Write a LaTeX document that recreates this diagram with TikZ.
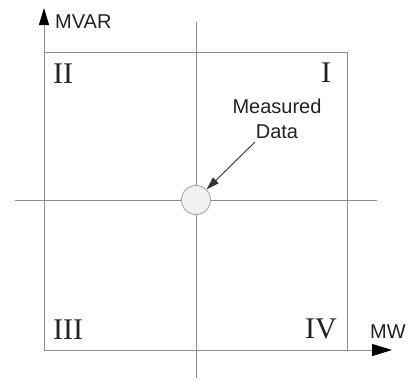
\documentclass[tikz,border=0pt]{standalone}
\usepackage{fontspec}
\setmainfont{Liberation Serif}
\setsansfont{Liberation Sans}
\usetikzlibrary{arrows.meta}
\definecolor{linegray}{HTML}{8C8C8C}
\definecolor{circfill}{HTML}{F0F1F1}
\definecolor{circline}{HTML}{A8A8A8}
\definecolor{txt}{HTML}{222222}
\tikzset{
  gridline/.style={draw=linegray, line width=0.9pt},
  axisline/.style={draw=linegray, line width=1pt},
  quadlabel/.style={font=\fontsize{30}{30}\selectfont, text=txt, inner sep=0pt, anchor=base west},
  axislabel/.style={font=\sffamily\fontsize{20}{20}\selectfont, text=txt, inner sep=0pt},
}
\begin{document}
\begin{tikzpicture}[x=1pt,y=-1pt]
\useasboundingbox (0,0) rectangle (408,381);
% corner coordinates
\coordinate (O) at (44,350);
\coordinate (Ytip) at (44,8);
\coordinate (Xtip) at (392,350);
\coordinate (TL) at (44,52);
\coordinate (TR) at (347,52);
\coordinate (BR) at (347,350);
\coordinate (Hl) at (15,200);
\coordinate (Hr) at (377,200);
\coordinate (Vt) at (196,22);
\coordinate (Vb) at (196,378);
% square and cross lines
\draw[gridline] (TL) -- (TR) -- (BR);
\draw[gridline] (Hl) -- (Hr);
\draw[gridline] (Vt) -- (Vb);
% axes
\draw[axisline, -{Triangle[length=17pt,width=10pt,color=black]}] (O) -- (Ytip);
\draw[axisline, -{Triangle[length=20pt,width=12pt,color=black]}] (O) -- (Xtip);
% measured data circle
\node[circle, draw=circline, fill=circfill, line width=0.9pt, minimum size=29pt, inner sep=0pt] (md) at (196,200) {};
% labels
\node[axislabel, anchor=base west] (mvar) at (55,28) {MVAR};
\node[axislabel, anchor=base west] (mw) at (370,338) {MW};
\node[quadlabel] (q2) at (53,83) {II};
\node[quadlabel] (q1) at (321,82) {I};
\node[quadlabel] (q3) at (53,339) {III};
\node[quadlabel] (q4) at (305,338) {IV};
\node[axislabel, align=center, anchor=base] (mtext) at (277,138) {Measured\\[5pt]Data};
\coordinate (astart) at (255,142);
\draw[draw=black!80, line width=0.9pt, -{Triangle[length=13pt,width=8pt]}] (astart) -- (md.45);
\end{tikzpicture}
\end{document}
